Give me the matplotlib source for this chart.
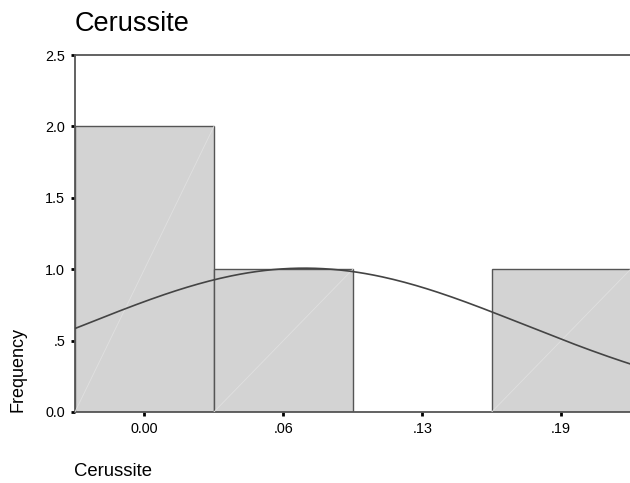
import numpy as np
import matplotlib.pyplot as plt

plt.rcParams['font.family'] = ['Liberation Sans', 'DejaVu Sans']

# histogram bins (midpoints) and counts
bin_mid = [0.0, 0.0625, 0.125, 0.1875]
counts = [2, 1, 0, 1]
bin_width = 0.0625
x_ticks = [0.0, 0.0625, 0.125, 0.1875]
x_labels = ["0.00", ".06", ".13", ".19"]
y_ticks = [0.0, 0.5, 1.0, 1.5, 2.0, 2.5]
y_labels = ["0.0", ".5", "1.0", "1.5", "2.0", "2.5"]

# normal curve parameters
mean = 0.072
sd = 0.099
n = sum(counts)

fig = plt.figure(figsize=(6.3, 4.83), dpi=100)
ax = fig.add_axes([0.119, 0.147, 0.882, 0.739])

xmin = bin_mid[0] - bin_width / 2
xmax = bin_mid[-1] + bin_width / 2

for m, c in zip(bin_mid, counts):
    if c == 0:
        continue
    ax.bar(m, c, width=bin_width, color="#d3d3d3", edgecolor="#555555",
           linewidth=1.0, zorder=2)
    # faint diagonal highlight inside each bar
    ax.plot([m - bin_width / 2, m + bin_width / 2], [0, c],
            color="#e0e0e0", linewidth=0.6, zorder=3)

xs = np.linspace(xmin, xmax, 200)
ys = n * bin_width / (sd * np.sqrt(2 * np.pi)) * np.exp(-(xs - mean) ** 2 / (2 * sd ** 2))
ax.plot(xs, ys, color="#444444", linewidth=1.2, zorder=4)

ax.set_xlim(xmin, xmax)
ax.set_ylim(0, 2.5)
ax.set_xticks(x_ticks)
ax.set_xticklabels(x_labels)
ax.set_yticks(y_ticks)
ax.set_yticklabels(y_labels)
ax.tick_params(axis="both", length=3, width=2, color="black",
               labelsize=10.4, pad=4)

for side in ["left", "bottom", "top"]:
    ax.spines[side].set_color("#555555")
    ax.spines[side].set_linewidth(1.3)
ax.spines["right"].set_visible(False)

fig.text(0.119, 0.951, "Cerussite", fontsize=19.5, ha="left", va="center")
fig.text(0.118, 0.023, "Cerussite", fontsize=13.3, ha="left", va="center")
fig.text(0.029, 0.147, "Frequency", fontsize=13, rotation=90,
         ha="center", va="bottom")

fig.savefig("out.png", dpi=100)
